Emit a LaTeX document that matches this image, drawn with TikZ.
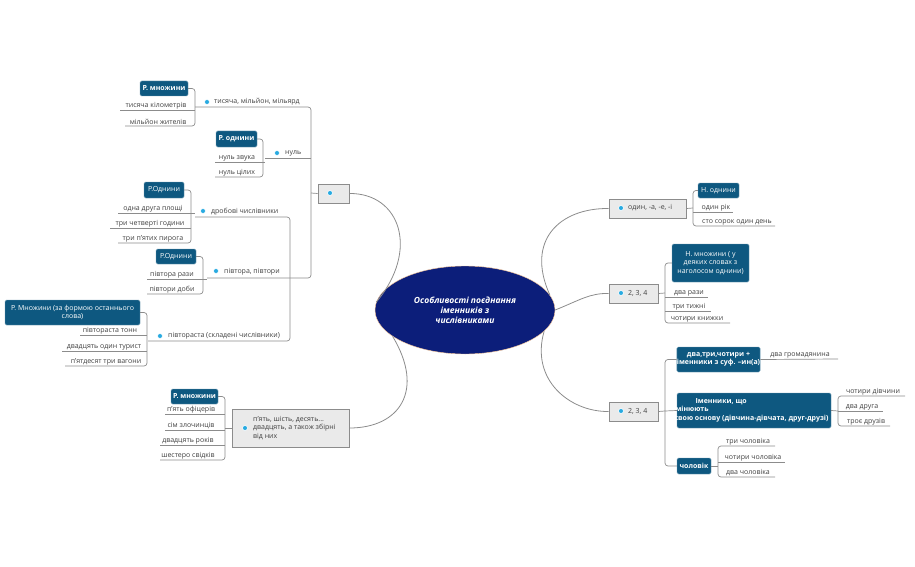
\documentclass[tikz,border=0pt]{standalone}
\usepackage{fontspec}
\usetikzlibrary{shapes.geometric}
\setmainfont{Open Sans}
\definecolor{dk}{RGB}{14,88,128}
\definecolor{nav}{RGB}{12,30,122}
\definecolor{ln}{RGB}{140,140,140}
\definecolor{gb}{RGB}{234,234,234}
\definecolor{ic}{RGB}{40,170,225}
\begin{document}
\begin{tikzpicture}[x=1pt,y=-1pt,
 every node/.style={font=\fontsize{7}{8.5}\selectfont, inner sep=1pt},
 dbox/.style={fill=dk, draw=dk!60, rounded corners=1.5pt, text=white, align=center, inner sep=0pt},
 gbox/.style={fill=gb, draw=ln, thick, inner sep=0pt},
 txt/.style={text=black!75, anchor=south, inner sep=1pt},
 con/.style={draw=ln, line width=0.7pt, rounded corners=3pt},
 curve/.style={draw=ln, line width=0.8pt},
 icon/.style={circle, fill=ic, draw=white, line width=0.6pt, minimum size=5pt, inner sep=0pt}]
\useasboundingbox (0,0) rectangle (915,567);
% center
\node[ellipse, fill=nav, draw=orange!40, minimum width=180, minimum height=88, text=white, align=center, font=\fontsize{8.5}{10}\selectfont\bfseries\itshape] (c) at (465,310) {Особливості поєднання\\іменників з\\числівниками};
% gray boxes
\node[gbox, minimum width=31, minimum height=19] (L1) at (333.5,193.5) {};
\node[icon] (L1i) at (330,193) {};
\node[gbox, minimum width=117, minimum height=38] (L2) at (290.5,428) {};
\node[icon] (L2i) at (245,428) {};
\node[anchor=west, align=left, text=black!75] (L2t) at (252,428) {п'ять, шість, десять...\\двадцять, а також збірні\\від них};
\node[gbox, minimum width=77, minimum height=19] (R1) at (647.5,208.5) {};
\node[icon] (R1i) at (621,208) {};
\node[anchor=west, text=black!75] (R1t) at (627,208) {один, -а, -е, -і};
\node[gbox, minimum width=49, minimum height=19] (R2) at (633.5,293.5) {};
\node[icon] (R2i) at (621,293) {};
\node[anchor=west, text=black!75] (R2t) at (627,293) {2, 3, 4};
\node[gbox, minimum width=49, minimum height=19] (R3) at (633.5,411.5) {};
\node[icon] (R3i) at (621,411) {};
\node[anchor=west, text=black!75] (R3t) at (627,411) {2, 3, 4};
% curves
\draw[curve] (c.175) .. controls (420,250) and (400,193) .. (L1.east);
\draw[curve] (c.200) .. controls (425,390) and (400,428) .. (L2.east);
\draw[curve] (c.10) .. controls (525,240) and (560,208) .. (R1.west);
\draw[curve] (c.0) .. controls (580,300) and (590,293) .. (R2.west);
\draw[curve] (c.-15) .. controls (530,380) and (570,412) .. (R3.west);
% left spine
\draw[con] (L1.west) -- (311,193);
\draw[con] (195,107) -- (311,107) -- (311,278) -- (207,278);
\draw[con] (265,158) -- (311,158);
\draw[con] (195,217) -- (290,217) -- (290,341) -- (148,341);
% branch labels
\node[icon] at (207,102) {}; \node[txt, anchor=south west] (b1) at (213,106) {тисяча, мільйон, мільярд};
\node[icon] at (277,153) {}; \node[txt, anchor=south west] (b2) at (284,157) {нуль};
\node[icon] at (203,211) {}; \node[txt, anchor=south west] (b3) at (210,216) {дробові числівники};
\node[icon] at (216,271) {}; \node[txt, anchor=south west] (b4) at (223,276) {півтора, півтори};
\node[icon] at (160,336) {}; \node[txt, anchor=south west] (b5) at (167,340) {півтораста (складені числівники)};
% group 1
\node[dbox, minimum width=48, minimum height=15] (g1) at (164,88.5) {\bfseries Р. множини};
\draw[con] (g1.east) -| (195,126) -- (125,126);
\draw[con] (120,110) -- (195,110);
\node[txt] at (156,110) {тисяча кілометрів};
\node[txt] at (158,126) {мільйон жителів};
% group 2
\node[dbox, minimum width=41, minimum height=16] (g2) at (236.5,139) {\bfseries Р. однини};
\draw[con] (g2.east) -| (263,177) -- (215,177);
\draw[con] (215,162) -- (265,162);
\node[txt] at (237,162) {нуль звука};
\node[txt] at (237,177) {нуль цілих};
% group 3
\node[dbox, minimum width=40, minimum height=16] (g3) at (164,190) {Р.Однини};
\draw[con] (g3.east) -| (191,243) -- (118,243);
\draw[con] (118,213) -- (195,213); \draw[con] (110,228) -- (191,228);
\node[txt] at (153,213) {одна друга площі};
\node[txt] at (150,228) {три четверті години};
\node[txt] at (153,243) {три п'ятих пирога};
% group 4
\node[dbox, minimum width=40, minimum height=15] (g4) at (176,256.5) {Р.Однини};
\draw[con] (g4.east) -| (203,294) -- (147,294);
\draw[con] (147,279) -- (207,279);
\node[txt] at (172,279) {півтора рази};
\node[txt] at (172,294) {півтори доби};
% group 5
\node[dbox, minimum width=135, minimum height=25] (g5) at (72.5,312.5) {Р. Множини (за формою останнього\\слова)};
\draw[con] (g5.east) -| (147,366) -- (65,366);
\draw[con] (80,335) -- (147,335); \draw[con] (62,351) -- (147,351);
\node[txt] at (110,335) {півтораста тонн};
\node[txt] at (104,351) {двадцять один турист};
\node[txt] at (106,366) {п'ятдесят три вагони};
% group 6
\draw[con] (L2.west) -- (225,428);
\node[dbox, minimum width=47, minimum height=15] (g6) at (194.5,396.5) {\bfseries Р. множини};
\draw[con] (g6.east) -| (225,460) -- (160,460);
\draw[con] (165,414) -- (225,414); \draw[con] (165,430) -- (225,430); \draw[con] (160,445) -- (225,445);
\node[txt] at (191,414) {п'ять офіцерів};
\node[txt] at (191,430) {сім злочинців};
\node[txt] at (188,445) {двадцять років};
\node[txt] at (188,460) {шестеро свідків};
% right group 1
\node[dbox, minimum width=41, minimum height=15] (r1) at (718.5,190.5) {Н. однини};
\draw[con] (R1.east) -- (693,208);
\draw[con] (r1.west) -| (693,226) -- (775,226);
\draw[con] (693,212) -- (733,212);
\node[txt] at (716,212) {один рік};
\node[txt] at (737,226) {сто сорок один день};
% right group 2
\node[dbox, minimum width=77, minimum height=38] (r2) at (710.5,263) {Н. множини ( у\\деяких словах з\\наголосом однини)};
\draw[con] (R2.east) -- (665,293);
\draw[con] (r2.west) -| (665,323) -- (730,323);
\draw[con] (665,297) -- (708,297); \draw[con] (665,311) -- (711,311);
\node[txt] at (689,297) {два рази};
\node[txt] at (689,311) {три тижні};
\node[txt] at (697,323) {чотири книжки};
% right group 3
\draw[con] (R3.east) -- (665,411);
\node[dbox, minimum width=83, minimum height=25] (r3a) at (718.5,359.5) {\bfseries два,три,чотири +\\\bfseries іменники з суф. –ин(а)};
\node[dbox, minimum width=154, minimum height=35] (r3b) at (754,410.5) {};
\node[text=white, align=left, font=\fontsize{7}{8.5}\selectfont\bfseries] (r3bt) at (750,410) {\hspace*{24pt}Іменники, що\\змінюють\\\hspace*{3pt}свою основу (дівчина-дівчата, друг-друзі)};
\node[dbox, minimum width=34, minimum height=16] (r3c) at (694,466) {\bfseries чоловік};
\draw[con] (r3a.west) -| (665,466) -- (r3c.west);
\draw[con] (665,411) -- (r3b.west);
\draw[con] (r3a.east) -- (838,359);
\node[txt] at (800,359) {два громадянина};
\draw[con] (r3b.east) -- (838,411);
\draw[con] (905,396) -- (838,396) -- (838,426) -- (890,426);
\draw[con] (838,411) -- (883,411);
\node[txt] at (873,396) {чотири дівчини};
\node[txt] at (862,411) {два друга};
\node[txt] at (866,426) {троє друзів};
\draw[con] (r3c.east) -- (718,466);
\draw[con] (775,446) -- (718,446) -- (718,477) -- (775,477);
\draw[con] (718,462) -- (785,462);
\node[txt] at (748,446) {три чоловіка};
\node[txt] at (753,462) {чотири чоловіка};
\node[txt] at (748,477) {два чоловіка};
\end{tikzpicture}
\end{document}
